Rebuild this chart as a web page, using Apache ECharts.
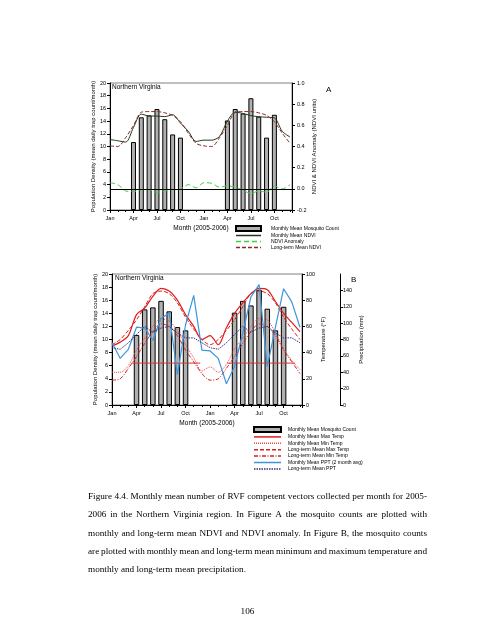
<!DOCTYPE html>
<html>
<head>
<meta charset="utf-8">
<script src="https://cdn.jsdelivr.net/npm/echarts@6/dist/echarts.min.js"></script>
<style>
html,body{margin:0;padding:0;background:#fff;}
#chart{width:495px;height:640px;}
</style>
</head>
<body>
<div id="chart"></div>
<script>
// ---------- DATA ----------
const monthLabels = ['Jan','Feb','Mar','Apr','May','Jun','Jul','Aug','Sep','Oct','Nov','Dec'];
// 24 months, Jan 2005 .. Dec 2006
const mosquitoCount = [null,null,null,10.7,14.6,14.9,15.9,14.3,11.9,11.4,null,null,
                       null,null,null,14.1,15.9,15.2,17.6,14.7,11.4,15.0,null,null];
// Figure A (NDVI units)
const monthlyNDVI = [0.466,0.454,0.442,0.580,0.706,0.688,0.688,0.682,0.700,0.622,0.544,0.448,
                     0.460,0.460,0.496,0.640,0.724,0.712,0.691,0.682,0.676,0.670,0.544,0.490];
const ndviAnomaly = [0.058,0.040,-0.020,-0.026,-0.008,-0.008,-0.032,-0.020,-0.008,-0.002,0.040,0.010,
                     0.058,0.052,0.016,0.028,0.016,-0.014,-0.044,-0.020,-0.032,0.028,-0.002,0.040];
const longTermNDVI = [0.406,0.400,0.484,0.598,0.724,0.730,0.730,0.718,0.694,0.634,0.526,0.430,
                      0.406,0.400,0.484,0.598,0.724,0.730,0.730,0.718,0.694,0.634,0.526,0.430];
// Figure B (°F and mm)
const maxTemp   = [45,48,53,69,74,83,89,87,80,69,60,50, 53,46,59,70,78,85,89,88,79,70,63,56];
const minTemp   = [25,25,30,42,51,60,66,64,57,46,36,26, 29,25,31,43,51,60,66,65,55,43,34,27];
const ltMaxTemp = [46,50,57,65,75,85,87,85,78,67,58,50, 46,50,57,65,75,85,87,85,78,67,58,50];
const ltMinTemp = [19,20,28,37,47,56,62,60,53,42,33,24, 19,20,28,37,47,56,62,60,53,42,33,24];
const pptMonthly = [76,57,68,95,94,79,106,112,37,98,134,67, 66,57,26,47,88,132,147,47,95,142,126,95];
const pptLongTerm = [70,68,76,86,96,89,94,96,88,82,82,76, 70,68,76,86,96,89,94,96,88,82,82,76];
const freezeTemp = 32;
const freezeSpans = [[2.4,10.8],[14.1,22.4]];
const captionLines = [
  'Figure 4.4. Monthly mean number of RVF competent vectors collected per month for 2005-',
  '2006 in the Northern Virginia region.  In Figure A the mosquito counts are plotted with',
  'monthly and long-term mean NDVI and NDVI anomaly.  In Figure B, the mosquito counts',
  'are plotted with monthly mean and long-term mean minimum and maximum temperature and',
  'monthly and long-term mean precipitation.'
];
const pageNumber = '106';

// ---------- BUILD ----------
const FONT = 'Liberation Sans';
const pts = arr => arr.map((v,i)=>[i,v]).filter(p=>p[1]!==null);
const barName = 'Monthly Mean Mosquito Count';
const lineItem = n => ({name:n, itemStyle:{opacity:0}});
const barItem = {name:barName, icon:'rect'};
const legendLine = {width:1.5, color:'inherit', type:'inherit', opacity:'inherit'};

function xAxisCfg(grid){
  return {
    gridIndex: grid, type:'value', min:0, max:23.25, interval:3,
    name:'Month (2005-2006)', nameLocation:'middle', nameGap:15,
    nameTextStyle:{fontSize:6.5, fontFamily:FONT, color:'#000'},
    axisLine:{onZero:false, lineStyle:{color:'#000', width:1}},
    axisTick:{show:true, length:3, lineStyle:{color:'#000'}},
    minorTick:{show:true, splitNumber:3, length:2, lineStyle:{color:'#000'}},
    splitLine:{show:false}, minorSplitLine:{show:false},
    axisLabel:{fontSize:5.5, fontFamily:FONT, color:'#000', margin:5,
      formatter: v => (Math.abs(v-Math.round(v))<1e-6 && Math.round(v)%3===0) ? monthLabels[Math.round(v)%12] : ''}
  };
}
function yAxisCfg(o){
  return Object.assign({
    type:'value', splitLine:{show:false},
    axisLine:{show:true, lineStyle:{color:'#000', width:1}},
    axisTick:{show:true, length:3, lineStyle:{color:'#000'}},
    axisLabel:{fontSize:5.5, fontFamily:FONT, color:'#000', margin:4},
    nameLocation:'middle', nameRotate:90,
    nameTextStyle:{fontSize:6, fontFamily:FONT, color:'#000'}
  }, o);
}

// justified caption: words placed individually across the text block width
const CAP_LEFT = 88, CAP_RIGHT = 427, CAP_TOP = 492, CAP_STEP = 18.3, CAP_SIZE = 9.2;
const CAP_FONT = CAP_SIZE + 'px "Liberation Serif"';
const measureCtx = document.createElement('canvas').getContext('2d');
measureCtx.font = CAP_FONT;
const captionGraphics = [];
captionLines.forEach((line, i) => {
  const top = CAP_TOP + i * CAP_STEP;
  const last = i === captionLines.length - 1;
  if (last) {
    captionGraphics.push({type:'text', left:CAP_LEFT, top:top,
      style:{text:line, fontSize:CAP_SIZE, fontFamily:'Liberation Serif', fill:'#000'}});
    return;
  }
  const words = line.split(/\s+/);
  const widths = words.map(w => measureCtx.measureText(w).width);
  const total = widths.reduce((a,b)=>a+b,0);
  const gap = (CAP_RIGHT - CAP_LEFT - total) / (words.length - 1);
  let x = CAP_LEFT;
  words.forEach((w, k) => {
    captionGraphics.push({type:'text', x:x, y:top,
      style:{text:w, fontSize:CAP_SIZE, fontFamily:'Liberation Serif', fill:'#000', textVerticalAlign:'top'}});
    x += widths[k] + gap;
  });
});

const lineBase = {type:'line', symbol:'none', showSymbol:false, smooth:0.3, z:3};

const option = {
  animation:false,
  backgroundColor:'#fff',
  textStyle:{fontFamily:FONT},
  grid:[
    {left:110, top:83, width:182, height:127, show:true, borderColor:'#808080', borderWidth:1, containLabel:false},
    {left:112, top:274, width:190, height:131, show:true, borderColor:'#808080', borderWidth:1, containLabel:false}
  ],
  xAxis:[xAxisCfg(0), xAxisCfg(1)],
  yAxis:[
    yAxisCfg({gridIndex:0, position:'left', min:0, max:20, interval:2,
      name:'Population Density (mean daily trap count/month)', nameGap:14}),
    yAxisCfg({gridIndex:0, position:'right', min:-0.2, max:1.0, interval:0.2,
      name:'NDVI & NDVI Anomaly (NDVI units)', nameGap:19,
      axisLabel:{fontSize:5.5, fontFamily:FONT, color:'#000', margin:5,
        formatter: v => (Math.abs(v)<1e-9 ? 0 : v).toFixed(1)}}),
    yAxisCfg({gridIndex:1, position:'left', min:0, max:20, interval:2,
      name:'Population Density (mean daily trap count/month)', nameGap:14}),
    yAxisCfg({gridIndex:1, position:'right', min:0, max:100, interval:20,
      name:'Temperature (°F)', nameGap:18}),
    yAxisCfg({gridIndex:1, position:'right', offset:38, min:0, max:160, interval:20,
      name:'Precipitation (mm)', nameGap:18,
      axisLabel:{fontSize:5.5, fontFamily:FONT, color:'#000', margin:3, showMaxLabel:false}})
  ],
  legend:[
    {data:[barItem, lineItem('Monthly Mean NDVI'), lineItem('NDVI Anomaly'), lineItem('Long-term Mean NDVI')],
     orient:'vertical', left:235, top:225, itemWidth:25, itemHeight:5, itemGap:1,
     selectedMode:false, padding:0, lineStyle:legendLine,
     textStyle:{fontSize:5, fontFamily:FONT, color:'#000', lineHeight:5, padding:[0,0,0,5]}},
    {data:[barItem, lineItem('Monthly Mean Max Temp'), lineItem('Monthly Mean Min Temp'), lineItem('Long-term Mean Max Temp'),
           lineItem('Long-term Mean Min Temp'), lineItem('Monthly Mean PPT (2 month avg)'), lineItem('Long-term Mean PPT')],
     orient:'vertical', left:253, top:426, itemWidth:27, itemHeight:5, itemGap:1.4,
     selectedMode:false, padding:0, lineStyle:legendLine,
     textStyle:{fontSize:5, fontFamily:FONT, color:'#000', lineHeight:5, padding:[0,0,0,2]}}
  ],
  series:[
    // ----- Figure A -----
    {name:barName, type:'bar', xAxisIndex:0, yAxisIndex:0, barWidth:5, data:pts(mosquitoCount),
     itemStyle:{color:'#b0b0b0', borderColor:'#000', borderWidth:1}, z:2},
    Object.assign({}, lineBase, {name:'Monthly Mean NDVI', xAxisIndex:0, yAxisIndex:1, data:pts(monthlyNDVI),
     lineStyle:{color:'#1e3a1e', width:1}, itemStyle:{color:'#1e3a1e'}}),
    Object.assign({}, lineBase, {name:'NDVI Anomaly', xAxisIndex:0, yAxisIndex:1, data:pts(ndviAnomaly),
     lineStyle:{color:'#44cc44', width:1, type:[5,3]}, itemStyle:{color:'#44cc44'},
     markLine:{silent:true, symbol:'none', label:{show:false}, animation:false,
       lineStyle:{color:'#000', width:1, type:'solid'}, data:[{yAxis:0}]}}),
    Object.assign({}, lineBase, {name:'Long-term Mean NDVI', xAxisIndex:0, yAxisIndex:1, data:pts(longTermNDVI),
     lineStyle:{color:'#8b2a2a', width:1, type:[4,2]}, itemStyle:{color:'#8b2a2a'}}),
    // ----- Figure B -----
    {name:barName, type:'bar', xAxisIndex:1, yAxisIndex:2, barWidth:5.5, data:pts(mosquitoCount),
     itemStyle:{color:'#b0b0b0', borderColor:'#000', borderWidth:1}, z:2},
    {name:'Freeze', type:'line', symbol:'none', xAxisIndex:1, yAxisIndex:3, z:3,
     data:[[freezeSpans[0][0],freezeTemp],[freezeSpans[0][1],freezeTemp],null,
           [freezeSpans[1][0],freezeTemp],[freezeSpans[1][1],freezeTemp]],
     connectNulls:false, lineStyle:{color:'#e03030', width:1}},
    Object.assign({}, lineBase, {name:'Monthly Mean Max Temp', xAxisIndex:1, yAxisIndex:3, data:pts(maxTemp),
     lineStyle:{color:'#e31a1c', width:1.2}, itemStyle:{color:'#e31a1c'}}),
    Object.assign({}, lineBase, {name:'Monthly Mean Min Temp', xAxisIndex:1, yAxisIndex:3, data:pts(minTemp),
     lineStyle:{color:'#f04848', width:1, type:[1,1]}, itemStyle:{color:'#f04848'}}),
    Object.assign({}, lineBase, {name:'Long-term Mean Max Temp', xAxisIndex:1, yAxisIndex:3, data:pts(ltMaxTemp),
     lineStyle:{color:'#d42020', width:1, type:[4,2]}, itemStyle:{color:'#d42020'}}),
    Object.assign({}, lineBase, {name:'Long-term Mean Min Temp', xAxisIndex:1, yAxisIndex:3, data:pts(ltMinTemp),
     lineStyle:{color:'#d42020', width:1, type:[4,1.5,1,1.5]}, itemStyle:{color:'#d42020'}}),
    {name:'Monthly Mean PPT (2 month avg)', type:'line', symbol:'none', showSymbol:false, z:3, xAxisIndex:1, yAxisIndex:4,
     data:pts(pptMonthly), lineStyle:{color:'#3d95dc', width:1.2}, itemStyle:{color:'#3d95dc'}},
    {name:'Long-term Mean PPT', type:'line', symbol:'none', showSymbol:false, z:3, xAxisIndex:1, yAxisIndex:4,
     data:pts(pptLongTerm), lineStyle:{color:'#33337f', width:1, type:[1.5,1]}, itemStyle:{color:'#33337f'}}
  ],
  graphic:[
    {type:'text', left:112, top:84, style:{text:'Northern Virginia', fontSize:6.5, fontFamily:FONT, fill:'#000'}},
    {type:'text', left:115, top:275, style:{text:'Northern Virginia', fontSize:6.5, fontFamily:FONT, fill:'#000'}},
    {type:'text', left:326, top:86, style:{text:'A', fontSize:8, fontFamily:FONT, fill:'#000'}},
    {type:'text', left:351, top:276, style:{text:'B', fontSize:8, fontFamily:FONT, fill:'#000'}}
  ].concat(captionGraphics)
   .concat([{type:'text', left:'center', top:607, style:{text:pageNumber, fontSize:9.2, fontFamily:'Liberation Serif', fill:'#000'}}])
};

const chart = echarts.init(document.getElementById('chart'), null, {renderer:'canvas'});
chart.setOption(option);
</script>
</body>
</html>
